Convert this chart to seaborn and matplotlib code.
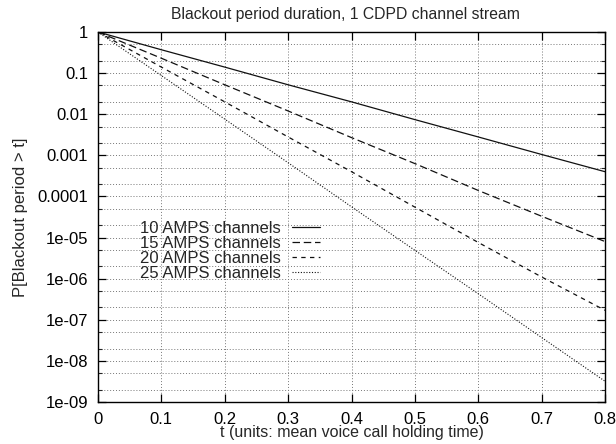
import matplotlib
matplotlib.use("Agg")
import matplotlib.pyplot as plt
import seaborn as sns
import pandas as pd
import numpy as np
from matplotlib.ticker import FixedLocator, NullFormatter

# Data
t_values = [0.0, 0.1, 0.2, 0.3, 0.4, 0.5, 0.6, 0.7, 0.8]
amps10 = [1.0, 0.37, 0.14, 0.052, 0.020, 0.0074, 0.0028, 0.00105, 0.0004]
amps15 = [1.0, 0.23, 0.052, 0.012, 0.0027, 0.00063, 0.00014, 3.3e-5, 8e-6]
amps20 = [1.0, 0.14, 0.020, 0.0028, 4.0e-4, 5.5e-5, 7.6e-6, 1.1e-6, 1.7e-7]
amps25 = [1.0, 0.087, 0.0076, 6.6e-4, 5.6e-5, 4.9e-6, 4.3e-7, 3.7e-8, 3.2e-9]
series_names = ["10 AMPS channels", "15 AMPS channels", "20 AMPS channels", "25 AMPS channels"]
series_values = [amps10, amps15, amps20, amps25]

x_ticks = [0, 0.1, 0.2, 0.3, 0.4, 0.5, 0.6, 0.7, 0.8]
x_tick_labels = ["0", "0.1", "0.2", "0.3", "0.4", "0.5", "0.6", "0.7", "0.8"]
y_ticks = [1, 0.1, 0.01, 0.001, 0.0001, 1e-5, 1e-6, 1e-7, 1e-8, 1e-9]
y_tick_labels = ["1", "0.1", "0.01", "0.001", "0.0001", "1e-05", "1e-06", "1e-07", "1e-08", "1e-09"]

rows = []
for name, vals in zip(series_names, series_values):
    for t, v in zip(t_values, vals):
        rows.append({"t": t, "p": v, "series": name})
df = pd.DataFrame(rows)

sns.set_style("ticks")
plt.rcParams['font.family'] = ['Liberation Sans', 'DejaVu Sans']

fig = plt.figure(figsize=(6.16, 4.44), dpi=100)
ax = fig.add_axes([98/616, 1 - 402/444, (605-98)/616, (402-32)/444])

styles = {
    "10 AMPS channels": (None, 0.9),
    "15 AMPS channels": ((0, (6, 3)), 0.9),
    "20 AMPS channels": ((0, (3.5, 3.5)), 0.9),
    "25 AMPS channels": ((0, (1, 1.5)), 0.8),
}
for name in series_names:
    sub = df[df["series"] == name]
    ls, lw = styles[name]
    sns.lineplot(data=sub, x="t", y="p", ax=ax, color="#111111", lw=lw,
                 label=name, legend=False)
    line = ax.lines[-1]
    if ls is not None:
        line.set_linestyle(ls)

ax.set_yscale("log")
ax.set_xlim(0, 0.8)
ax.set_ylim(1e-9, 1)
ax.set_xticks(x_ticks)
ax.set_xticklabels(x_tick_labels)
ax.set_yticks(y_ticks)
ax.set_yticklabels(y_tick_labels)
minor = []
for d in range(-9, 0):
    minor += [2 * 10.0**d, 5 * 10.0**d]
ax.yaxis.set_minor_locator(FixedLocator(minor))
ax.yaxis.set_minor_formatter(NullFormatter())
ax.xaxis.set_minor_locator(FixedLocator([]))

ax.tick_params(which="major", direction="in", length=6, width=0.9, top=True, right=True,
               labelsize=12, colors="black", pad=7)
ax.tick_params(which="minor", direction="in", length=3, width=0.8, right=True, left=True)
ax.grid(True, which="major", axis="both", color="#777777", linestyle=(0, (1, 2)), linewidth=0.7)
ax.grid(True, which="minor", axis="y", color="#777777", linestyle=(0, (1, 2)), linewidth=0.7)
for s in ax.spines.values():
    s.set_linewidth(1.0)
    s.set_color("black")

ax.set_title("Blackout period duration, 1 CDPD channel stream", fontsize=11.3, pad=9, x=0.488)
ax.set_xlabel("t (units: mean voice call holding time)", fontsize=11.5, labelpad=-1)
ax.set_ylabel("P[Blackout period > t]", fontsize=12, labelpad=7)

handles = ax.lines[:4]
ax.legend(handles, series_names, loc="upper left", bbox_to_anchor=(0.083, 0.49),
          markerfirst=False, frameon=False, fontsize=12, handlelength=1.7,
          labelspacing=0.0, handletextpad=0.65, borderaxespad=0, borderpad=0)

fig.savefig("out.png", dpi=100)
